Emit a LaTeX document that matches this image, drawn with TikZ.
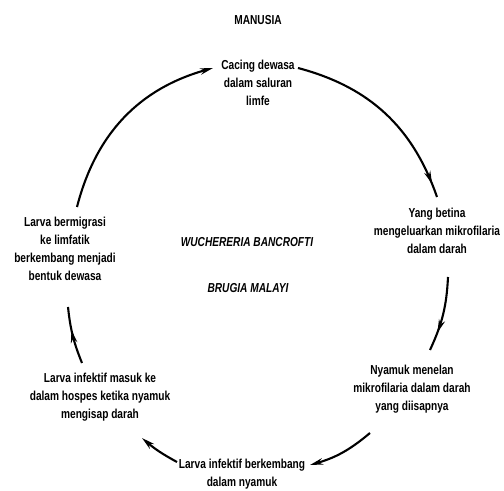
\documentclass[tikz,border=0pt]{standalone}
\usepackage{fontspec}
\newfontfamily\cyclefont{Liberation Sans Bold}[FakeStretch=0.78,ItalicFont={Liberation Sans Bold Italic}]
\usepackage{tikz}
\usetikzlibrary{arrows.meta,calc,decorations.markings}

\begin{document}
\begin{tikzpicture}[x=0.5pt,y=-0.5pt,
      >={Stealth[length=6.5pt,width=3.2pt]},
      every node/.append style={font=\cyclefont\fontsize{6.5}{9}\selectfont,inner sep=0pt},
      stage/.style={align=center},
      species/.style={font=\cyclefont\itshape\fontsize{6.5}{9}\selectfont},
      cycle/.style={line width=1.05pt},
      midtip/.style={postaction={decorate},
        decoration={markings,mark=at position #1 with {\arrow{Stealth[length=6.5pt,width=3.2pt]}}}}]
    \useasboundingbox (0,0) rectangle (504,491);
    \node (manusia) at (258,20) {MANUSIA};
    \node (cacing) [stage] at (258,83) {Cacing dewasa\\dalam saluran\\limfe};
    \node (betina) [stage] at (437,231) {Yang betina\\mengeluarkan mikrofilaria\\dalam darah};
    \node (menelan) [stage] at (412,389) {Nyamuk menelan\\mikrofilaria dalam darah\\yang diisapnya};
    \node (berkembang) [stage] at (242,474) {Larva infektif berkembang\\dalam nyamuk};
    \node (masuk) [stage] at (100,397) {Larva infektif masuk ke\\dalam hospes ketika nyamuk\\mengisap darah};
    \node (bermigrasi) [stage] at (65,249) {Larva bermigrasi\\ke limfatik\\berkembang menjadi\\bentuk dewasa};
    \node (wuchereria) [species] at (247,242) {WUCHERERIA BANCROFTI};
    \node (brugia) [species] at (248,288) {BRUGIA MALAYI};

    \draw [cycle,->] ($(bermigrasi)+(12,-42)$) to[bend left=30] ($(cacing)+(-45,-15)$);
    \draw [cycle,midtip=0.93] ($(cacing)+(40,-15)$) to[bend left=28] ($(betina)+(0,-34)$);
    \draw [cycle,midtip=0.75] ($(betina)+(11,46)$) to[bend left=11] ($(menelan)+(18,-39)$);
    \draw [cycle,->] ($(menelan)+(-42,44)$) to[bend left=12] ($(berkembang)+(68,-9)$);
    \draw [cycle,->] ($(berkembang)+(-65,-12)$) to[bend left=6] ($(masuk)+(42,41)$);
    \draw [cycle,midtip=0.6] ($(masuk)+(-18,-34)$) to[bend left=8] ($(bermigrasi)+(3,58)$);
\end{tikzpicture}
\end{document}
